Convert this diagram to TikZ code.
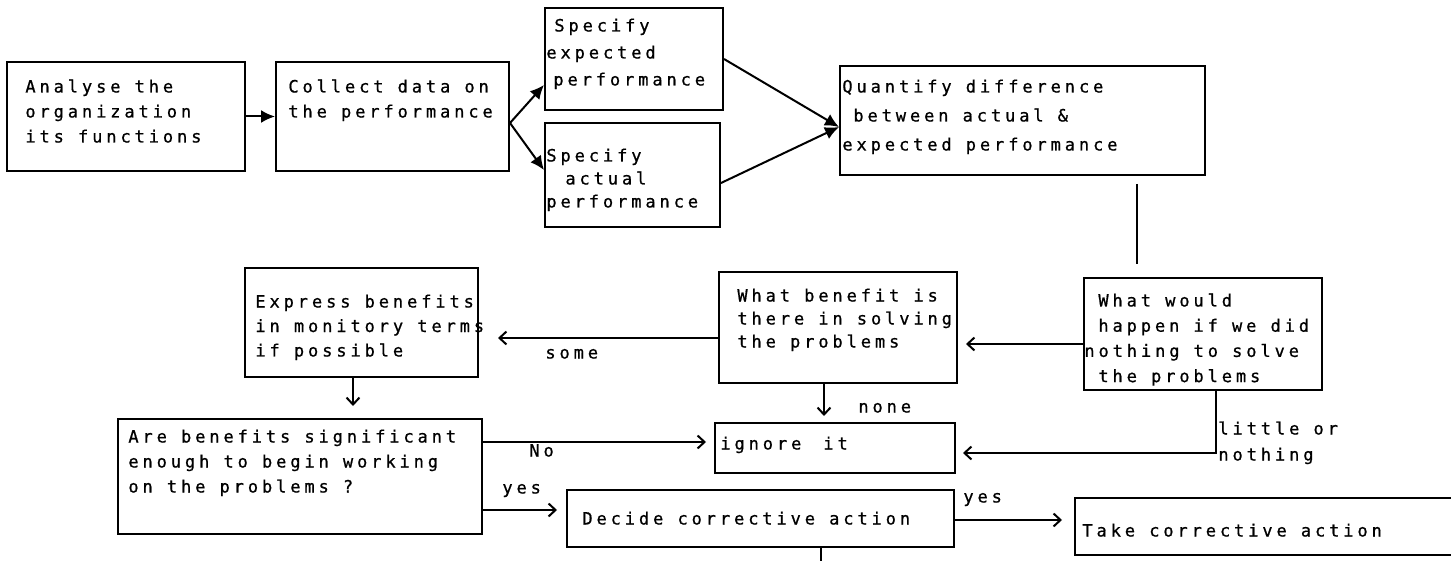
\documentclass[tikz,border=0pt]{standalone}
\usepackage{fontspec}
\usetikzlibrary{arrows.meta,fit,calc}
\newfontfamily\dotfont[LetterSpace=23,FakeBold=0.8]{DejaVu Sans Mono}
\newcommand\mlines[1]{\begin{tabular}[t]{@{}l@{}}#1\end{tabular}}
\begin{document}
\begin{tikzpicture}[x=0.5pt,y=-0.5pt,
  box/.style={draw, line width=1pt, inner sep=0pt},
  txt/.style={inner sep=0pt, anchor=base west, font=\dotfont\fontsize{8.5}{#1}\selectfont},
  txt/.default=12.5,
  farrow/.style={line width=1pt, -{Latex[length=7pt,width=6.5pt]}},
  oarrow/.style={line width=1pt, -{Straight Barb[length=3.5pt,width=6.5pt]}},
  plain/.style={line width=1pt}]
\useasboundingbox (0,0) rectangle (1451,561);
\clip (0,0) rectangle (1451,561);

% boxes
\node[box, fit={(7,62) (245,171)}] (A) {};
\node[box, fit={(276,62) (509,171)}] (B) {};
\node[box, fit={(545,8) (723,110)}] (C) {};
\node[box, fit={(545,123) (720,227)}] (D) {};
\node[box, fit={(840,66) (1205,175)}] (E) {};
\node[box, fit={(1084,278) (1322,390)}] (F) {};
\node[box, fit={(719,272) (957,383)}] (G) {};
\node[box, fit={(245,268) (478,377)}] (H) {};
\node[box, fit={(118,419) (482,534)}] (I) {};
\node[box, fit={(715,423) (955,473)}] (J) {};
\node[box, fit={(567,490) (954,547)}] (K) {};
\node[box, fit={(1075,498) (1480,555)}] (L) {};

% box texts
\node[txt] (tA) at (25,92.5) {\mlines{Analyse the\\organization\\its functions}};
\node[txt] (tB) at (288,92.5) {\mlines{Collect data on\\the performance}};
\node[txt=13.5] (tC) at (546,31.5) {\mlines{\hspace{4pt}Specify\\expected\\\hspace{3.5pt}performance}};
\node[txt=11.5] (tD) at (546,161.5) {\mlines{Specify\\\hspace{9.5pt}actual\\performance}};
\node[txt=14.5] (tE) at (842,92.5) {\mlines{Quantify difference\\\hspace{5.5pt}between actual \&\\expected performance}};
\node[txt=12.6] (tF) at (1098,306.5) {\mlines{What would\\happen if we did\\\hspace{-7pt}nothing to solve\\the problems}};
\node[txt=11.5] (tG) at (737,301.5) {\mlines{What benefit is\\there in solving\\the problems}};
\node[txt=12.25] (tH) at (255,307.5) {\mlines{Express benefits\\in monitory terms\\if possible}};
\node[txt] (tI) at (128,442.5) {\mlines{Are benefits significant\\enough to begin working\\on the problems ?}};
\node[txt] (tJ) at (720,449.5) {ignore\hspace{11pt}it};
\node[txt] (tK) at (582,524.5) {Decide corrective action};
\node[txt] (tL) at (1082,536.5) {Take corrective action};

% connectors of the upper row
\draw[farrow] (A.east) -- (B.west);
\draw[farrow] ([shift={(0,6.5)}]B.east) -- ([shift={(0,26)}]C.west);
\draw[farrow] ([shift={(0,6.5)}]B.east) -- ([shift={(0,-5)}]D.west);
\draw[farrow] (C.east) -- ([shift={(0,6.5)}]E.west);
\draw[farrow] ([shift={(0,8)}]D.east) -- ([shift={(0,6.5)}]E.west);
\draw[plain] ([shift={(114.5,8)}]E.south) -- ([shift={(-66,-13)}]F.north);

% connectors of the lower part
\draw[oarrow] ([shift={(0,10)}]F.west) -- ([shift={(8,16.5)}]G.east);
\draw[oarrow] ([shift={(0,10.5)}]G.west) -- ([shift={(19,15.5)}]H.east);
\draw[oarrow] ([shift={(-8.5,0)}]H.south) -- ([shift={(53,-12)}]I.north);
\draw[oarrow] ([shift={(0,-34.5)}]I.east) -- ([shift={(-8,-6)}]J.west);
\draw[oarrow] ([shift={(-14,0)}]G.south) -- ([shift={(-11,-6)}]J.north);
\draw[oarrow] ([shift={(13,0)}]F.south) |- ([shift={(7,5)}]J.east);
\draw[oarrow] ([shift={(0,33.5)}]I.east) -- ([shift={(-9,-8.5)}]K.west);
\draw[oarrow] ([shift={(0,1.5)}]K.east) -- ([shift={(-12,-6.5)}]L.west);
\coordinate (Kout) at ([shift={(60.5,25)}]K.south);
\draw[plain] ([shift={(60.5,0)}]K.south) -- (Kout);

% connector labels
\node[txt] (lsome) at (545,358.5) {some};
\node[txt] (lnone) at (858,412.5) {none};
\node[txt] (lno) at (529,456.5) {No};
\node[txt] (lyes1) at (502,493.5) {yes};
\node[txt] (lyes2) at (963,502.5) {yes};
\node[txt=13] (llittle) at (1218,434.5) {\mlines{little or\\nothing}};
\end{tikzpicture}
\end{document}
